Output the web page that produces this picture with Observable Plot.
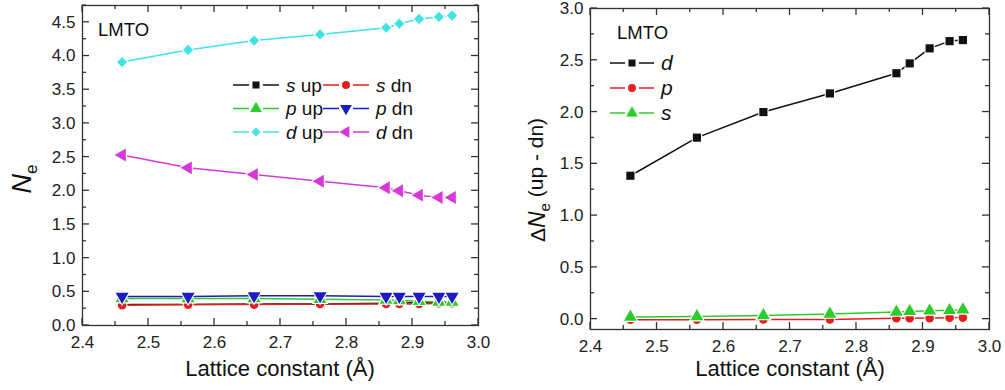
<!DOCTYPE html>
<html><head><meta charset="utf-8">
<script src="https://cdn.jsdelivr.net/npm/d3@7"></script>
<script src="https://cdn.jsdelivr.net/npm/@observablehq/plot@0.6"></script>
<style>
body{margin:0;background:#fff;}
#wrap{display:flex;width:1005px;height:390px;overflow:hidden;}
svg{font-family:"Liberation Sans",Arial,sans-serif;flex:none;}
</style></head><body><div id="wrap"></div>
<script>
// ---- data ----
const lattice = [2.46, 2.56, 2.66, 2.76, 2.86, 2.88, 2.91, 2.94, 2.96];
const sUp = [0.31, 0.31, 0.32, 0.32, 0.33, 0.33, 0.34, 0.34, 0.34];
const sDn = [0.30, 0.31, 0.31, 0.32, 0.32, 0.32, 0.32, 0.33, 0.33];
const pUp = [0.40, 0.40, 0.40, 0.39, 0.38, 0.37, 0.36, 0.35, 0.35];
const pDn = [0.43, 0.43, 0.44, 0.44, 0.43, 0.43, 0.43, 0.43, 0.43];
const dUp = [3.91, 4.09, 4.23, 4.32, 4.42, 4.48, 4.55, 4.58, 4.60];
const dDn = [2.53, 2.34, 2.24, 2.14, 2.045, 2.00, 1.935, 1.90, 1.90];
const dDiff = [1.385, 1.753, 2.00, 2.18, 2.375, 2.47, 2.615, 2.685, 2.695];
const pDiff = [-0.005, -0.005, -0.004, -0.003, 0.008, 0.008, 0.01, 0.014, 0.015];
const sDiff = [0.02, 0.025, 0.035, 0.05, 0.07, 0.075, 0.08, 0.085, 0.09];
const xTicks = [2.4, 2.5, 2.6, 2.7, 2.8, 2.9, 3.0];
const xMinorTicks = [2.45, 2.55, 2.65, 2.75, 2.85, 2.95];
const leftYTicks = [0, 0.5, 1.0, 1.5, 2.0, 2.5, 3.0, 3.5, 4.0, 4.5];
const leftYMinorTicks = [0.25, 0.75, 1.25, 1.75, 2.25, 2.75, 3.25, 3.75, 4.25, 4.75];
const rightYTicks = [0, 0.5, 1.0, 1.5, 2.0, 2.5, 3.0];
const rightYMinorTicks = [0.25, 0.75, 1.25, 1.75, 2.25, 2.75];
const xLabel = "Lattice constant (Å)";
const methodLabel = "LMTO";

// ---- symbols ----
const s3 = Math.sqrt(3);
const triDown = {draw(ctx, size){ const y = -Math.sqrt(size/(s3*3)); ctx.moveTo(0,-2*y); ctx.lineTo(-s3*y, y); ctx.lineTo(s3*y, y); ctx.closePath(); }};
const triLeft = {draw(ctx, size){ const y = -Math.sqrt(size/(s3*3)); ctx.moveTo(2*y,0); ctx.lineTo(-y, -s3*y); ctx.lineTo(-y, s3*y); ctx.closePath(); }};
const symMap = {square: d3.symbolSquare, circle: d3.symbolCircle, triangle: d3.symbolTriangle, triDown, diamond: d3.symbolDiamond2, triLeft};

const C = {black:"#111", red:"#e41e1e", green:"#2ccc2c", blue:"#1c1cc0", cyan:"#40e2e6", magenta:"#d838d8"};

const leftSeries = [
  {orb:"s", spin:" up", values:sUp, color:C.black, sym:"square"},
  {orb:"s", spin:" dn", values:sDn, color:C.red, sym:"circle"},
  {orb:"p", spin:" up", values:pUp, color:C.green, sym:"triangle"},
  {orb:"p", spin:" dn", values:pDn, color:C.blue, sym:"triDown"},
  {orb:"d", spin:" up", values:dUp, color:C.cyan, sym:"diamond"},
  {orb:"d", spin:" dn", values:dDn, color:C.magenta, sym:"triLeft"},
];
const rightSeries = [
  {orb:"d", spin:"", values:dDiff, color:C.black, sym:"square"},
  {orb:"p", spin:"", values:pDiff, color:C.red, sym:"circle"},
  {orb:"s", spin:"", values:sDiff, color:C.green, sym:"triangle"},
];

const FRAME = "#333";

function seriesMarks(series){
  const out = [];
  for (const s of series) {
    const rows = lattice.map((x, i) => ({x, y: s.values[i]}));
    out.push(Plot.line(rows, {x:"x", y:"y", stroke:s.color, strokeWidth:1.5}));
    const r = s.sym.startsWith("tri") ? 4.8 : (s.sym === "circle" ? 4.3 : 4.6);
    out.push(Plot.dot(rows, {x:"x", y:"y", symbol: symMap[s.sym], fill:s.color, stroke:"white", strokeWidth:2.2, paintOrder:"stroke", r}));
  }
  return out;
}
function labelAxes(yMajor){
  return [
    Plot.axisX(xTicks, {anchor:"bottom", tickSize:0, tickPadding:10, fontSize:17, label:null, fill:"#222", tickFormat:d=>d.toFixed(1)}),
    Plot.axisY(yMajor, {anchor:"left", tickSize:0, tickPadding:7, fontSize:17, label:null, fill:"#222", tickFormat:d=>d.toFixed(1)}),
  ];
}

// inward ticks on all four sides, positioned through the chart's own scales
function addTicks(svg, m, W, H, yMajor, yMinor){
  const sx = svg.scale("x"), sy = svg.scale("y");
  const g = d3.select(svg).append("g").attr("stroke", FRAME).attr("stroke-width", 1.3);
  const x0 = m.l, x1 = W - m.r, y0 = m.t, y1 = H - m.b;
  const MJ = 7, MN = 4;
  const vx = (v, len) => {
    const px = sx.apply(v);
    g.append("line").attr("x1", px).attr("x2", px).attr("y1", y1).attr("y2", y1 - len);
    g.append("line").attr("x1", px).attr("x2", px).attr("y1", y0).attr("y2", y0 + len);
  };
  const vy = (v, len) => {
    const py = sy.apply(v);
    g.append("line").attr("y1", py).attr("y2", py).attr("x1", x0).attr("x2", x0 + len);
    g.append("line").attr("y1", py).attr("y2", py).attr("x1", x1).attr("x2", x1 - len);
  };
  xTicks.forEach(v => vx(v, MJ));
  xMinorTicks.forEach(v => vx(v, MN));
  yMajor.forEach(v => vy(v, MJ));
  yMinor.forEach(v => vy(v, MN));
}

function addLegend(svg, series, cfg){
  const g = d3.select(svg).append("g");
  series.forEach((s, i) => {
    const col = i % cfg.cols;
    const row = Math.floor(i / cfg.cols);
    const x0 = cfg.x0 + col * cfg.colW;
    const y = cfg.y0 + row * cfg.rowH;
    const L = cfg.segL, gap = cfg.gap;
    const xm = x0 + L + gap;
    g.append("line").attr("x1", x0).attr("x2", x0+L).attr("y1", y).attr("y2", y).attr("stroke", s.color).attr("stroke-width", 1.5);
    g.append("line").attr("x1", xm+gap).attr("x2", xm+gap+L).attr("y1", y).attr("y2", y).attr("stroke", s.color).attr("stroke-width", 1.5);
    const sz = s.sym.startsWith("tri") ? 60 : 50;
    g.append("path").attr("transform", `translate(${xm},${y})`).attr("d", d3.symbol(symMap[s.sym], sz)()).attr("fill", s.color);
    const t = g.append("text").attr("x", xm+gap+L+cfg.textGap).attr("y", y).attr("dy", "0.35em")
      .attr("text-anchor", "start").attr("font-size", cfg.fs).attr("fill", "#111");
    t.append("tspan").attr("font-style", "italic").text(s.orb);
    if (s.spin) t.append("tspan").text(s.spin);
  });
}

function centerRotated(textSel, cx, cy){
  const L = textSel.node().getComputedTextLength();
  textSel.attr("text-anchor", "start").attr("x", -L/2).attr("transform", `translate(${cx},${cy}) rotate(-90)`);
}

const LW = 500, LH = 390, Lm = {l:82, r:22, t:5, b:65};
const RW = 505, RH = 390, Rm = {l:90, r:16, t:8, b:61};
const plotStyle = {fontFamily: '"Liberation Sans", Arial, sans-serif', background: "white", overflow: "visible"};

// ---- left chart ----
const left = Plot.plot({
  width: LW, height: LH,
  marginLeft: Lm.l, marginRight: Lm.r, marginTop: Lm.t, marginBottom: Lm.b,
  x: {domain: [2.4, 3.0]},
  y: {domain: [0, 4.75]},
  style: plotStyle,
  marks: [
    ...seriesMarks(leftSeries),
    Plot.frame({stroke: FRAME, strokeWidth: 1.3}),
    ...labelAxes(leftYTicks)
  ]
});

// ---- right chart ----
const right = Plot.plot({
  width: RW, height: RH,
  marginLeft: Rm.l, marginRight: Rm.r, marginTop: Rm.t, marginBottom: Rm.b,
  x: {domain: [2.4, 3.0]},
  y: {domain: [-0.1, 3.0]},
  style: plotStyle,
  marks: [
    ...seriesMarks(rightSeries),
    Plot.frame({stroke: FRAME, strokeWidth: 1.3}),
    ...labelAxes(rightYTicks)
  ]
});

document.getElementById("wrap").append(left, right);

{
  addTicks(left, Lm, LW, LH, leftYTicks, leftYMinorTicks);
  const s = d3.select(left);
  s.append("text").attr("x", 280).attr("y", 368).attr("dy","0.35em").attr("text-anchor","middle").attr("font-size", 22).attr("fill","#111").text(xLabel);
  s.append("text").attr("x", 98).attr("y", 30).attr("dy","0.35em").attr("text-anchor","start").attr("font-size", 18.5).attr("fill","#111").text(methodLabel);
  const yl = s.append("text").attr("fill","#111");
  yl.append("tspan").attr("font-style","italic").attr("font-size", 27).text("N");
  yl.append("tspan").attr("font-size", 17).attr("dy", "0.35em").text("e");
  centerRotated(yl, 31, 179);
  addLegend(left, leftSeries, {x0:233, y0:85, cols:2, colW:90, rowH:23.5, segL:16, gap:7, textGap:7, fs:19});
}
{
  addTicks(right, Rm, RW, RH, rightYTicks, rightYMinorTicks);
  const s = d3.select(right);
  s.append("text").attr("x", 290).attr("y", 368).attr("dy","0.35em").attr("text-anchor","middle").attr("font-size", 22).attr("fill","#111").text(xLabel);
  s.append("text").attr("x", 117).attr("y", 33).attr("dy","0.35em").attr("text-anchor","start").attr("font-size", 18.5).attr("fill","#111").text(methodLabel);
  const yl = s.append("text").attr("fill","#111").attr("font-size", 21);
  yl.append("tspan").text("Δ");
  yl.append("tspan").attr("font-style","italic").attr("font-size", 23).text("N");
  yl.append("tspan").attr("font-size", 15).attr("dy", "0.35em").text("e");
  yl.append("tspan").attr("dy", "-0.35em").text(" (up - dn)");
  centerRotated(yl, 45, 180);
  addLegend(right, rightSeries, {x0:110, y0:63, cols:1, colW:0, rowH:25, segL:15, gap:7, textGap:7, fs:21});
}
</script></body></html>
